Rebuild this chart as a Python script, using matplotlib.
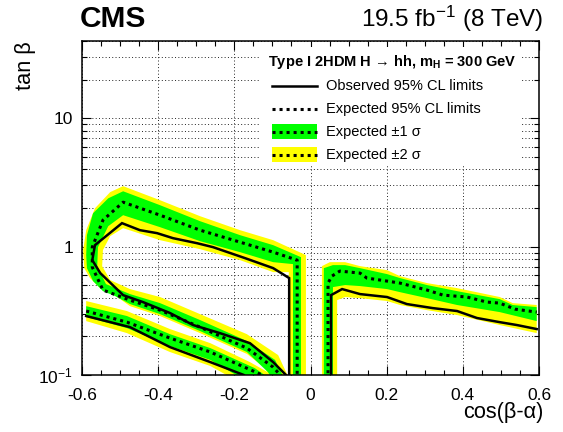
import matplotlib
matplotlib.use("Agg")
import matplotlib.pyplot as plt
from matplotlib.ticker import MultipleLocator, LogLocator, FixedLocator, FixedFormatter, NullFormatter
from matplotlib.patches import Rectangle
from matplotlib.lines import Line2D

plt.rcParams['font.family'] = ['Liberation Sans', 'DejaVu Sans']
plt.rcParams['mathtext.fontset'] = 'custom'
plt.rcParams['mathtext.rm'] = 'Liberation Sans'
plt.rcParams['mathtext.it'] = 'Liberation Sans:italic'
plt.rcParams['mathtext.bf'] = 'Liberation Sans:bold'
plt.rcParams['mathtext.default'] = 'regular'

# ---------------- data (cos(beta-alpha), tan beta) ----------------
# Region A: left loop (vertical edge -> upper branch -> tip -> lower branch)
obsA_x = [-0.056, -0.056, -0.098, -0.172, -0.256, -0.298, -0.361, -0.403, -0.448, -0.495,
          -0.566, -0.573, -0.552, -0.492, -0.440, -0.369, -0.308, -0.238, -0.159, -0.098, -0.057]
obsA_y = [0.090, 0.569, 0.680, 0.814, 0.991, 1.064, 1.164, 1.274, 1.344, 1.524,
          1.027, 0.785, 0.622, 0.419, 0.370, 0.304, 0.245, 0.212, 0.177, 0.126, 0.095]
expA_x = [-0.035, -0.035, -0.098, -0.185, -0.290, -0.395, -0.492, -0.545, -0.573, -0.573,
          -0.545, -0.474, -0.395, -0.290, -0.167, -0.098, -0.067]
expA_y = [0.090, 0.785, 0.906, 1.084, 1.344, 1.758, 2.22, 1.608, 0.991, 0.692,
          0.459, 0.383, 0.320, 0.236, 0.162, 0.115, 0.091]
p1A_x = [-0.025, -0.025, -0.098, -0.185, -0.290, -0.395, -0.492, -0.531, -0.571, -0.587,
         -0.589, -0.587, -0.571, -0.545, -0.513, -0.474, -0.395, -0.290, -0.167, -0.112, -0.098]
p1A_y = [0.091, 0.828, 1.027, 1.229, 1.579, 2.103, 2.70, 2.38, 1.82, 1.229,
         0.859, 0.680, 0.539, 0.450, 0.412, 0.357, 0.298, 0.220, 0.151, 0.1055, 0.091]
m1A_x = [-0.046, -0.046, -0.098, -0.185, -0.290, -0.395, -0.492, -0.531, -0.558, -0.560,
         -0.537, -0.474, -0.395, -0.290, -0.167, -0.093, -0.067]
m1A_y = [0.091, 0.731, 0.757, 0.906, 1.103, 1.418, 1.758, 1.444, 0.991, 0.705,
         0.511, 0.427, 0.363, 0.268, 0.184, 0.131, 0.091]
p2A_x = [-0.012, -0.012, -0.098, -0.185, -0.290, -0.395, -0.492, -0.526, -0.566, -0.589,
         -0.597, -0.594, -0.579, -0.552, -0.518, -0.474, -0.395, -0.290, -0.167, -0.119, -0.101]
p2A_y = [0.091, 0.859, 1.123, 1.344, 1.727, 2.30, 2.96, 2.66, 1.99, 1.344,
         0.939, 0.680, 0.569, 0.475, 0.427, 0.344, 0.288, 0.212, 0.146, 0.113, 0.091]
m2A_x = [-0.057, -0.057, -0.098, -0.185, -0.290, -0.395, -0.492, -0.526, -0.545, -0.547,
         -0.526, -0.474, -0.395, -0.290, -0.167, -0.085, -0.054]
m2A_y = [0.091, 0.633, 0.633, 0.785, 0.956, 1.123, 1.393, 1.207, 0.939, 0.705,
         0.549, 0.467, 0.405, 0.298, 0.208, 0.143, 0.091]

# Region B: lower-left strip
obsB_x = [-0.589, -0.474, -0.369, -0.263, -0.175, -0.170]
obsB_y = [0.288, 0.236, 0.165, 0.126, 0.100, 0.096]
expB_x = [-0.589, -0.482, -0.369, -0.263, -0.127, -0.120]
expB_y = [0.315, 0.258, 0.194, 0.151, 0.100, 0.094]
p1B_x = [-0.589, -0.482, -0.369, -0.263, -0.146, -0.101]
p1B_y = [0.344, 0.288, 0.208, 0.162, 0.113, 0.091]
m1B_x = [-0.589, -0.482, -0.369, -0.263, -0.172]
m1B_y = [0.283, 0.232, 0.168, 0.131, 0.091]
p2B_x = [-0.589, -0.482, -0.369, -0.263, -0.159, -0.085]
p2B_y = [0.377, 0.315, 0.228, 0.177, 0.126, 0.0948]
m2B_x = [-0.589, -0.482, -0.369, -0.263, -0.196]
m2B_y = [0.263, 0.212, 0.151, 0.1175, 0.091]

# Region C: right branch
obsC_x = [0.054, 0.054, 0.083, 0.130, 0.201, 0.253, 0.321, 0.385, 0.437, 0.497, 0.542, 0.594]
obsC_y = [0.091, 0.419, 0.467, 0.427, 0.405, 0.357, 0.332, 0.315, 0.278, 0.258, 0.245, 0.228]
expC_x = [0.046, 0.046, 0.056, 0.077, 0.130, 0.148, 0.201, 0.235, 0.306, 0.348, 0.411,
          0.463, 0.497, 0.537, 0.594]
expC_y = [0.091, 0.520, 0.589, 0.645, 0.622, 0.569, 0.539, 0.520, 0.459, 0.419, 0.405,
          0.370, 0.363, 0.326, 0.309]
p1C_x = [0.035, 0.035, 0.059, 0.091, 0.130, 0.201, 0.235, 0.306, 0.385, 0.497, 0.531, 0.594]
p1C_y = [0.091, 0.680, 0.718, 0.718, 0.680, 0.611, 0.569, 0.502, 0.450, 0.390, 0.351, 0.338]
m1C_x = [0.059, 0.059, 0.091, 0.130, 0.201, 0.235, 0.306, 0.385, 0.497, 0.594]
m1C_y = [0.091, 0.484, 0.502, 0.493, 0.467, 0.442, 0.397, 0.351, 0.309, 0.263]
p2C_x = [0.030, 0.030, 0.051, 0.091, 0.130, 0.201, 0.235, 0.306, 0.385, 0.497, 0.531, 0.594]
p2C_y = [0.091, 0.705, 0.757, 0.757, 0.705, 0.656, 0.589, 0.520, 0.475, 0.405, 0.363, 0.351]
m2C_x = [0.070, 0.070, 0.091, 0.130, 0.201, 0.235, 0.306, 0.385, 0.497, 0.594]
m2C_y = [0.091, 0.383, 0.405, 0.397, 0.377, 0.351, 0.320, 0.293, 0.245, 0.212]

x_ticks = [-0.6, -0.4, -0.2, 0.0, 0.2, 0.4, 0.6]
x_ticklabels = ['-0.6', '-0.4', '-0.2', '0', '0.2', '0.4', '0.6']
y_ticks = [0.1, 1, 10]
y_ticklabels = [r'$10^{-1}$', '1', '10']

title_text = r'Type I 2HDM H → hh, $\mathbf{m_{H}}$ = 300 GeV'
legend_labels = ['Observed 95% CL limits', 'Expected 95% CL limits',
                 'Expected ±1 σ', 'Expected ±2 σ']

GREEN = '#00ff00'
YELLOW = '#ffff00'

# ---------------- figure ----------------
W, H = 563, 432
fig = plt.figure(figsize=(W / 100, H / 100), dpi=100)
ax = fig.add_axes([82 / W, 1 - 375 / H, (539 - 82) / W, (375 - 41) / H])
ax.set_yscale('log')
ax.set_xlim(-0.6, 0.6)
ax.set_ylim(0.1, 40)


def band(upx, upy, lox, loy, color):
    ax.fill(list(upx) + list(lox[::-1]), list(upy) + list(loy[::-1]),
            color=color, lw=0, zorder=2)


for (ux, uy, lx, ly) in [(p2A_x, p2A_y, m2A_x, m2A_y), (p2B_x, p2B_y, m2B_x, m2B_y),
                         (p2C_x, p2C_y, m2C_x, m2C_y)]:
    band(ux, uy, lx, ly, YELLOW)
for (ux, uy, lx, ly) in [(p1A_x, p1A_y, m1A_x, m1A_y), (p1B_x, p1B_y, m1B_x, m1B_y),
                         (p1C_x, p1C_y, m1C_x, m1C_y)]:
    band(ux, uy, lx, ly, GREEN)

DOT = (0, (1.0, 1.3))
for ex, ey in [(expA_x, expA_y), (expB_x, expB_y), (expC_x, expC_y)]:
    ax.plot(ex, ey, color='k', lw=2.2, ls=DOT, zorder=4)
for ox, oy in [(obsA_x, obsA_y), (obsB_x, obsB_y), (obsC_x, obsC_y)]:
    ax.plot(ox, oy, color='k', lw=1.8, zorder=5, solid_joinstyle='miter')

# axes styling
ax.set_axisbelow(True)
ax.xaxis.set_major_locator(FixedLocator(x_ticks))
ax.xaxis.set_major_formatter(FixedFormatter(x_ticklabels))
ax.xaxis.set_minor_locator(MultipleLocator(0.05))
ax.yaxis.set_major_locator(FixedLocator(y_ticks))
ax.yaxis.set_major_formatter(FixedFormatter(y_ticklabels))
ax.yaxis.set_minor_locator(LogLocator(base=10, subs=range(2, 10)))
ax.yaxis.set_minor_formatter(NullFormatter())
ax.tick_params(which='both', direction='in', top=True, right=True, width=0.8, color='k')
ax.tick_params(which='major', length=6.5)
ax.tick_params(which='minor', length=3.3)
ax.tick_params(axis='x', which='major', labelsize=12.5, pad=9.5)
ax.tick_params(axis='y', which='major', labelsize=12.5, pad=6.5)
for s in ax.spines.values():
    s.set_linewidth(1.1)
gkw = dict(color='#222222', lw=0.7, ls=(0, (1, 2.4)))
ax.grid(True, which='major', axis='x', **gkw)
ax.grid(True, which='both', axis='y', **gkw)

# ---------------- texts ----------------
def fx(px):
    return px / W


def fy(py):
    return 1 - py / H


fig.text(fx(80), fy(27), 'CMS', fontsize=21.5, fontweight='bold', ha='left', va='baseline')
fig.text(fx(543), fy(27), r'19.5 fb$^{-1}$ (8 TeV)', fontsize=17.5, ha='right', va='baseline')
fig.text(fx(25), fy(41), 'tan β', fontsize=15.7, rotation=90, ha='center', va='top')
fig.text(fx(544), fy(402), 'cos(β-α)', fontsize=15.7, ha='right', va='top')

# ---------------- legend (drawn manually) ----------------
T = fig.transFigure
ax.add_patch(Rectangle((fx(260), fy(164)), fx(520) - fx(260), fy(47) - fy(164),
                       transform=T, facecolor='white', edgecolor='none', zorder=6, clip_on=False))
fig.text(fx(268), fy(66), title_text, fontsize=10.5, fontweight='bold', ha='left',
         va='baseline', zorder=7)
rows = [90, 113, 136, 159]
x0, x1 = 272, 317
ax.add_line(Line2D([fx(x0), fx(x1)], [fy(rows[0] - 4.5)] * 2, transform=T, color='k',
                   lw=1.8, zorder=7, clip_on=False))
ax.add_line(Line2D([fx(x0), fx(x1)], [fy(rows[1] - 4.5)] * 2, transform=T, color='k',
                   lw=2.2, ls=DOT, zorder=7, clip_on=False))
for r, c in [(rows[2], GREEN), (rows[3], YELLOW)]:
    ax.add_patch(Rectangle((fx(x0), fy(r + 3)), fx(x1) - fx(x0), fy(r - 12) - fy(r + 3),
                           transform=T, facecolor=c, edgecolor='none', zorder=7, clip_on=False))
    ax.add_line(Line2D([fx(x0), fx(x1)], [fy(r - 4.5)] * 2, transform=T, color='k',
                       lw=2.2, ls=DOT, zorder=8, clip_on=False))
for r, lab in zip(rows, legend_labels):
    fig.text(fx(326), fy(r), lab, fontsize=10.5, ha='left', va='baseline', zorder=8)

fig.savefig('out.png', dpi=100)
